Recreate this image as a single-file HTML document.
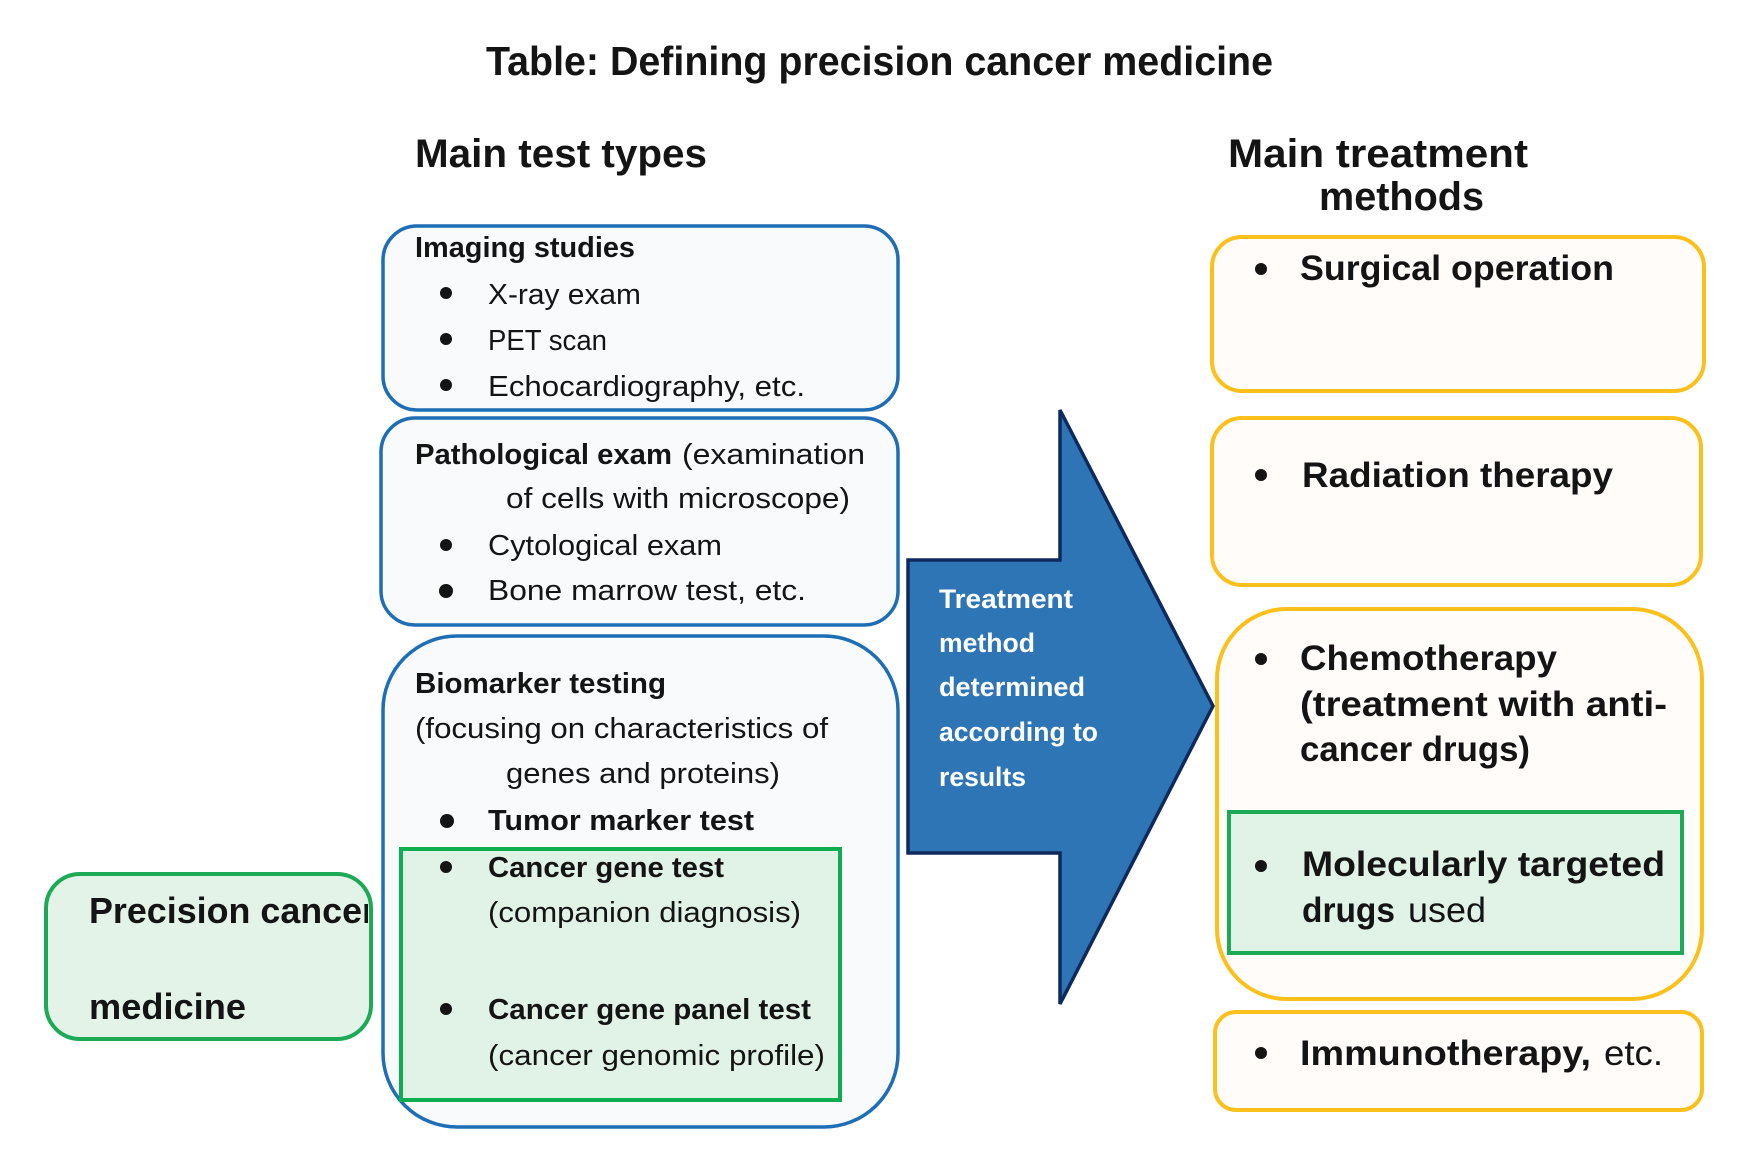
<!DOCTYPE html>
<html>
<head>
<meta charset="utf-8">
<style>
  html, body { margin:0; padding:0; background:#ffffff; }
  svg { display:block; }
  text { font-family: "Liberation Sans", Arial, sans-serif; fill:#141414; }
  .b { font-weight:bold; }
  .w { fill:#ffffff; font-weight:bold; }
</style>
</head>
<body>
<svg width="1753" height="1165" viewBox="0 0 1753 1165" xmlns="http://www.w3.org/2000/svg">
  <defs>
    <clipPath id="pclip"><rect x="46" y="874" width="322" height="165"/></clipPath>
  </defs>
  <rect x="0" y="0" width="1753" height="1165" fill="#ffffff"/>

  <!-- Title -->
  <text class="b" x="486" y="75" font-size="41" textLength="787" lengthAdjust="spacingAndGlyphs">Table: Defining precision cancer medicine</text>

  <!-- Headings -->
  <text class="b" x="415" y="167" font-size="40" textLength="292" lengthAdjust="spacingAndGlyphs">Main test types</text>
  <text class="b" x="1228" y="167" font-size="40" textLength="300" lengthAdjust="spacingAndGlyphs">Main treatment</text>
  <text class="b" x="1319" y="210" font-size="40" textLength="165" lengthAdjust="spacingAndGlyphs">methods</text>

  <!-- Imaging studies box -->
  <rect x="383" y="226" width="515" height="184" rx="34" ry="34" fill="#F9FAFC" stroke="#1E6EB6" stroke-width="3.5"/>
  <text class="b" x="415" y="257" font-size="29" textLength="220" lengthAdjust="spacingAndGlyphs">Imaging studies</text>
  <circle cx="446" cy="293" r="6" fill="#141414"/>
  <text x="488" y="304" font-size="29" textLength="153" lengthAdjust="spacingAndGlyphs">X-ray exam</text>
  <circle cx="446" cy="339" r="6" fill="#141414"/>
  <text x="488" y="350" font-size="29" textLength="119" lengthAdjust="spacingAndGlyphs">PET scan</text>
  <circle cx="446" cy="385" r="6" fill="#141414"/>
  <text x="488" y="396" font-size="29" textLength="317" lengthAdjust="spacingAndGlyphs">Echocardiography, etc.</text>

  <!-- Pathological exam box -->
  <rect x="381" y="418" width="517" height="207" rx="34" ry="34" fill="#F9FAFC" stroke="#1E6EB6" stroke-width="3.5"/>
  <text class="b" x="415" y="464" font-size="29" textLength="257" lengthAdjust="spacingAndGlyphs">Pathological exam</text>
  <text x="682" y="464" font-size="29" textLength="183" lengthAdjust="spacingAndGlyphs">(examination</text>
  <text x="506" y="508" font-size="29" textLength="344" lengthAdjust="spacingAndGlyphs">of cells with microscope)</text>
  <circle cx="446" cy="545" r="6" fill="#141414"/>
  <text x="488" y="555" font-size="29" textLength="234" lengthAdjust="spacingAndGlyphs">Cytological exam</text>
  <circle cx="446" cy="591" r="7" fill="#141414"/>
  <text x="488" y="600" font-size="29" textLength="318" lengthAdjust="spacingAndGlyphs">Bone marrow test, etc.</text>

  <!-- Biomarker testing box -->
  <rect x="383" y="636" width="515" height="491" rx="74" ry="74" fill="#F9FAFC" stroke="#1E6EB6" stroke-width="3.5"/>
  <text class="b" x="415" y="693" font-size="29" textLength="251" lengthAdjust="spacingAndGlyphs">Biomarker testing</text>
  <text x="415" y="738" font-size="29" textLength="413" lengthAdjust="spacingAndGlyphs">(focusing on characteristics of</text>
  <text x="506" y="783" font-size="29" textLength="274" lengthAdjust="spacingAndGlyphs">genes and proteins)</text>
  <circle cx="447" cy="821" r="7" fill="#141414"/>
  <text class="b" x="488" y="830" font-size="29" textLength="266" lengthAdjust="spacingAndGlyphs">Tumor marker test</text>

  <!-- Green rect inside biomarker -->
  <rect x="401" y="849" width="439" height="251" fill="#E1F2E7" stroke="#0DAE50" stroke-width="4"/>
  <circle cx="446" cy="867" r="6" fill="#141414"/>
  <text class="b" x="488" y="877" font-size="29" textLength="236" lengthAdjust="spacingAndGlyphs">Cancer gene test</text>
  <text x="488" y="922" font-size="29" textLength="313" lengthAdjust="spacingAndGlyphs">(companion diagnosis)</text>
  <circle cx="446" cy="1009" r="6" fill="#141414"/>
  <text class="b" x="488" y="1019" font-size="29" textLength="323" lengthAdjust="spacingAndGlyphs">Cancer gene panel test</text>
  <text x="488" y="1065" font-size="29" textLength="337" lengthAdjust="spacingAndGlyphs">(cancer genomic profile)</text>

  <!-- Precision cancer medicine box -->
  <rect x="46" y="874" width="325" height="165" rx="34" ry="34" fill="#E3F3E8" stroke="#1DAA57" stroke-width="4"/>
  <g clip-path="url(#pclip)">
    <text class="b" x="89" y="923" font-size="36" textLength="287" lengthAdjust="spacingAndGlyphs">Precision cancer</text>
  </g>
  <text class="b" x="89" y="1019" font-size="36" textLength="157" lengthAdjust="spacingAndGlyphs">medicine</text>

  <!-- Arrow -->
  <polygon points="908,560 1060,560 1060,410 1213,706 1060,1004 1060,853 908,853" fill="#2E75B6" stroke="#0E2A5C" stroke-width="3.5" stroke-linejoin="miter"/>
  <text class="w" x="939" y="608" font-size="27" textLength="134" lengthAdjust="spacingAndGlyphs">Treatment</text>
  <text class="w" x="939" y="652" font-size="27" textLength="96" lengthAdjust="spacingAndGlyphs">method</text>
  <text class="w" x="939" y="696" font-size="27" textLength="146" lengthAdjust="spacingAndGlyphs">determined</text>
  <text class="w" x="939" y="741" font-size="27" textLength="159" lengthAdjust="spacingAndGlyphs">according to</text>
  <text class="w" x="939" y="786" font-size="27" textLength="87" lengthAdjust="spacingAndGlyphs">results</text>

  <!-- Surgical operation -->
  <rect x="1212" y="237" width="492" height="154" rx="30" ry="30" fill="#FFFCFA" stroke="#FCC01C" stroke-width="4"/>
  <circle cx="1261" cy="269" r="6" fill="#141414"/>
  <text class="b" x="1300" y="280" font-size="35" textLength="314" lengthAdjust="spacingAndGlyphs">Surgical operation</text>

  <!-- Radiation therapy -->
  <rect x="1212" y="418" width="489" height="167" rx="30" ry="30" fill="#FFFCFA" stroke="#FCC01C" stroke-width="4"/>
  <circle cx="1261" cy="475" r="6" fill="#141414"/>
  <text class="b" x="1302" y="487" font-size="35" textLength="311" lengthAdjust="spacingAndGlyphs">Radiation therapy</text>

  <!-- Chemotherapy -->
  <rect x="1217" y="609" width="485" height="390" rx="70" ry="70" fill="#FFFCFA" stroke="#FCC01C" stroke-width="4"/>
  <circle cx="1261" cy="659" r="6" fill="#141414"/>
  <text class="b" x="1300" y="670" font-size="35" textLength="257" lengthAdjust="spacingAndGlyphs">Chemotherapy</text>
  <text class="b" x="1300" y="716" font-size="35" textLength="367" lengthAdjust="spacingAndGlyphs">(treatment with anti-</text>
  <text class="b" x="1300" y="761" font-size="35" textLength="230" lengthAdjust="spacingAndGlyphs">cancer drugs)</text>

  <rect x="1229" y="812" width="453" height="141" fill="#E1F2E7" stroke="#1DAA57" stroke-width="4"/>
  <circle cx="1261" cy="866" r="6" fill="#141414"/>
  <text class="b" x="1302" y="876" font-size="35" textLength="363" lengthAdjust="spacingAndGlyphs">Molecularly targeted</text>
  <text class="b" x="1302" y="922" font-size="35" textLength="93" lengthAdjust="spacingAndGlyphs">drugs</text>
  <text x="1408" y="922" font-size="35" textLength="78" lengthAdjust="spacingAndGlyphs">used</text>

  <!-- Immunotherapy -->
  <rect x="1215" y="1012" width="487" height="98" rx="21" ry="21" fill="#FFFCFA" stroke="#FCC01C" stroke-width="4"/>
  <circle cx="1261" cy="1053" r="6" fill="#141414"/>
  <text class="b" x="1300" y="1065" font-size="35" textLength="291" lengthAdjust="spacingAndGlyphs">Immunotherapy,</text>
  <text x="1604" y="1065" font-size="35" textLength="59" lengthAdjust="spacingAndGlyphs">etc.</text>
</svg>
</body>
</html>
